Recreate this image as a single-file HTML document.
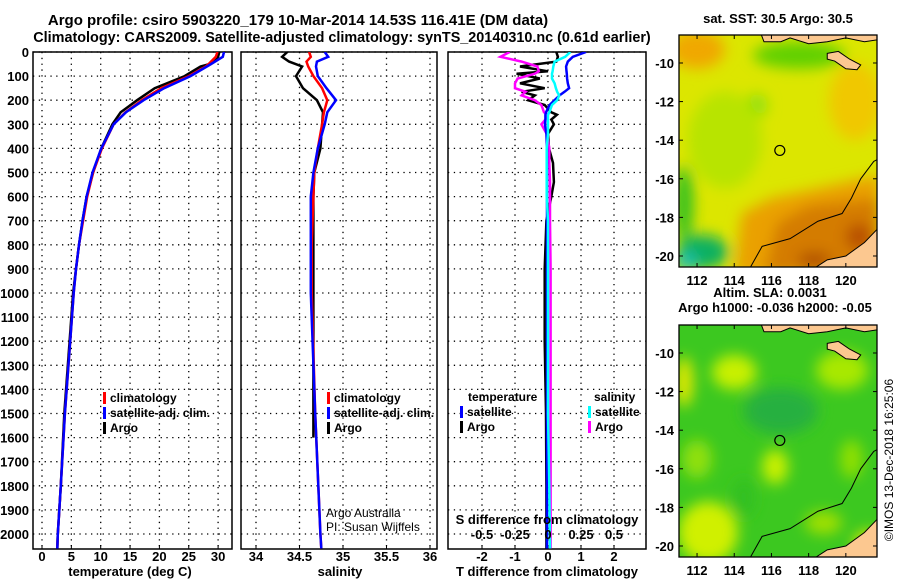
<!DOCTYPE html>
<html><head><meta charset="utf-8"><style>
body{margin:0;background:#fff}
svg{display:block;font-family:"Liberation Sans",sans-serif;font-weight:bold}
text{font-size:13px;fill:#000}
</style></head><body>
<svg id="fig" width="900" height="580" viewBox="0 0 900 580">
<defs>
<filter id="blur" x="-20%" y="-20%" width="140%" height="140%"><feGaussianBlur stdDeviation="7"/></filter>
<clipPath id="clipTop"><rect x="679" y="35" width="198" height="232"/></clipPath>
<clipPath id="clipBot"><rect x="679" y="325" width="198" height="232"/></clipPath>
<clipPath id="clipP1"><rect x="33" y="52" width="199" height="497"/></clipPath>
<clipPath id="clipP2"><rect x="241" y="52" width="196" height="497"/></clipPath>
<clipPath id="clipP3"><rect x="448" y="52" width="198" height="497"/></clipPath>
</defs>
<text x="298" y="25" text-anchor="middle" style="font-size:15px">Argo profile: csiro 5903220_179 10-Mar-2014 14.53S 116.41E (DM data)</text>
<text x="342" y="42" text-anchor="middle" style="font-size:14.4px">Climatology: CARS2009. Satellite-adjusted climatology: synTS_20140310.nc (0.61d earlier)</text>
<g id="panels"></g>
<g id="maps"></g>
<text transform="translate(893,460) rotate(-90)" text-anchor="middle" style="font-size:12px;font-weight:normal">©IMOS 13-Dec-2018 16:25:06</text>
</svg>
<script>
// ---- data ----
const depthTicks=[0,100,200,300,400,500,600,700,800,900,1000,1100,1200,1300,1400,1500,1600,1700,1800,1900,2000];
const tempTicks=[0,5,10,15,20,25,30];
const salTicks=[34,34.5,35,35.5,36];
const salTickLabels=["34","34.5","35","35.5","36"];
const tdiffTicks=[-2,-1,0,1,2];
const sdiffTicks=[-0.5,-0.25,0,0.25,0.5];
const sdiffTickLabels=["-0.5","-0.25","0","0.25","0.5"];

const tDepth=[0,20,50,60,100,150,200,250,300,400,500,600,700,800,900,1000,1200,1500,1800,2000,2060];
const tClim=[29.9,29.6,28.4,27.9,25.0,20.3,17.0,14.2,12.2,10.2,8.7,7.7,7.0,6.3,5.8,5.4,4.8,3.9,3.2,2.7,2.6];
const tSat=[31.0,30.8,28.8,28.1,25.3,20.8,17.3,14.3,12.2,10.1,8.6,7.6,6.9,6.3,5.8,5.4,4.8,3.9,3.2,2.7,2.6];
const tArgo=[30.2,30.0,28.6,27.0,24.3,19.2,16.2,13.4,12.0,10.1,8.7,7.6,6.9,6.3,5.8,5.3,4.7,3.8,3.2,2.7,2.6];

const sDepth=[0,20,40,60,100,150,200,250,300,400,500,600,800,1000,1500,2000,2060];
const sClim=[34.61,34.63,34.58,34.60,34.66,34.76,34.82,34.78,34.76,34.71,34.67,34.66,34.64,34.64,34.68,34.74,34.75];
const sSat=[34.79,34.83,34.70,34.69,34.71,34.81,34.92,34.82,34.79,34.71,34.66,34.63,34.63,34.63,34.68,34.74,34.75];
const aDepth=[0,20,40,60,100,150,200,250,300,400,500,600,800,1000,1300,1600];
const sArgo=[34.36,34.30,34.38,34.53,34.46,34.54,34.70,34.77,34.76,34.74,34.67,34.66,34.66,34.66,34.66,34.66];

const dDepth=[0,20,40,60,80,90,110,130,150,165,180,200,220,250,260,280,300,340,400,460,540,600,700,900,1200,1500,1800,2060];
const dTSat=[1.15,0.75,0.6,0.55,0.56,0.57,0.58,0.6,0.64,0.5,0.35,0.2,0.05,-0.06,-0.08,-0.08,-0.09,-0.05,-0.03,-0.03,-0.03,-0.03,-0.03,-0.03,-0.03,-0.03,-0.03,-0.03];
const dTArgo=[0.25,0.3,0.25,-0.85,0.0,-0.95,-0.25,-0.85,-0.1,-0.8,-0.4,-0.6,-0.1,0.1,0.27,0.1,0.18,0.0,0.03,0.15,0.18,0.1,-0.05,-0.1,-0.1,-0.06,-0.05,-0.05];
const dSSat=[0.17,0.13,0.05,0.04,0.035,0.03,0.03,0.05,0.06,0.07,0.085,0.07,0.03,0.01,0.0,0.0,0.0,0.0,-0.01,-0.01,-0.01,-0.01,0.0,0.0,0.0,0.0,0.01,0.015];
const dSArgo=[-0.29,-0.36,-0.2,-0.08,-0.07,-0.1,-0.23,-0.25,-0.25,-0.17,-0.2,-0.1,-0.05,-0.03,0.0,-0.02,-0.05,-0.01,0.01,0.01,0.015,0.015,0.015,0.02,0.02,0.02,0.02,0.02];

const NS="http://www.w3.org/2000/svg";
function el(tag,attrs,parent){const e=document.createElementNS(NS,tag);for(const k in attrs)e.setAttribute(k,attrs[k]);parent.appendChild(e);return e;}
const P=document.getElementById('panels');
const yD=d=>52+d*0.241;
const Y0=52,Y1=549;
const x1=v=>42+v*5.87;
const x2=v=>256+(v-34)*87;
const x3=v=>548+v*33;
const xs3=v=>548+v*132;

function frame(x0,xw,name){
  const g=el('g',{},P);
  
  
  const r=el('rect',{x:x0,y:Y0,width:xw,height:Y1-Y0,fill:'#fff',stroke:'#000','stroke-width':1.5},g);
  
  
  depthTicks.forEach(d=>{
    const l=el('line',{x1:x0,x2:x0+xw,y1:yD(d),y2:yD(d),stroke:'#000','stroke-width':1.3,'stroke-dasharray':'1.3 4.5'},g);
    
    
  });
  return g;
}
function vgrid(g,vals,fx){vals.forEach(v=>{const l=el('line',{x1:fx(v),x2:fx(v),y1:Y0,y2:Y1,stroke:'#000','stroke-width':1.3,'stroke-dasharray':'1.3 4.5'},g);
  
  
  el('line',{x1:fx(v),x2:fx(v),y1:Y1,y2:Y1-4,stroke:'#000'},g);});}
function line(g,ds,vs,fx,color,name,clip,w){
  const pts=ds.map((d,i)=>fx(vs[i]).toFixed(1)+','+yD(d).toFixed(1)).join(' ');
  const p=el('polyline',{points:pts,fill:'none',stroke:color,'stroke-width':w||2.5,'clip-path':'url(#'+clip+')'},g);
  
  
}
function txt(g,x,y,s,name,anchor,size){const t=el('text',{x:x,y:y,'text-anchor':anchor||'start'},g);if(size)t.style.fontSize=size+'px';t.textContent=s;
  
  return t;}
function legend(g,x,y,color,label){
  const b=el('rect',{x:x,y:y-10,width:3,height:12,fill:color},g);
  
  
  txt(g,x+7,y,label,'legend-entry','start',12);
}

depthTicks.forEach(d=>txt(P,29,yD(d)+5,String(d),'depth-tick-label','end',13));

const g1=frame(33,199,'temperature-panel');
vgrid(g1,tempTicks,x1);
tempTicks.forEach(v=>txt(P,x1(v),561,String(v),'temperature-tick-label','middle'));
txt(P,130,576,'temperature (deg C)','temperature-axis-title','middle');
line(g1,tDepth,tArgo,x1,'#000','argo-temperature-line','clipP1');
line(g1,tDepth,tClim,x1,'#f00','clim-temperature-line','clipP1');
line(g1,tDepth,tSat,x1,'#00f','satellite-temperature-line','clipP1');
legend(g1,103,402,'#f00','climatology');
legend(g1,103,417,'#00f','satellite-adj. clim.');
legend(g1,103,432,'#000','Argo');

const g2=frame(241,196,'salinity-panel');
vgrid(g2,salTicks,x2);
salTicks.forEach((v,i)=>txt(P,x2(v),561,salTickLabels[i],'salinity-tick-label','middle'));
txt(P,340,576,'salinity','salinity-axis-title','middle');
line(g2,aDepth,sArgo,x2,'#000','argo-salinity-line','clipP2');
line(g2,sDepth,sClim,x2,'#f00','clim-salinity-line','clipP2');
line(g2,sDepth,sSat,x2,'#00f','satellite-salinity-line','clipP2');
legend(g2,327,402,'#f00','climatology');
legend(g2,327,417,'#00f','satellite-adj. clim.');
legend(g2,327,432,'#000','Argo');
const c1=txt(g2,326,517,'Argo Australia','credit-argo-australia','start',12);c1.style.fontWeight='normal';
const c2=txt(g2,326,531,'PI: Susan Wijffels','credit-pi','start',12);c2.style.fontWeight='normal';

const g3=frame(448,198,'difference-panel');
vgrid(g3,tdiffTicks,x3);
tdiffTicks.forEach(v=>txt(P,x3(v),561,String(v),'tdiff-tick-label','middle'));
txt(P,547,576,'T difference from climatology','tdiff-axis-title','middle');
line(g3,dDepth,dTArgo,x3,'#000','argo-tdiff-line','clipP3');
line(g3,dDepth,dSArgo,xs3,'#f0f','argo-sdiff-line','clipP3');
line(g3,dDepth,dTSat,x3,'#00f','satellite-tdiff-line','clipP3');
line(g3,dDepth,dSSat,xs3,'#0ff','satellite-sdiff-line','clipP3');
sdiffTicks.forEach((v,i)=>txt(g3,xs3(v),539,sdiffTickLabels[i],'sdiff-tick-label','middle'));
txt(g3,547,524,'S difference from climatology','sdiff-axis-title','middle');
txt(g3,468,401,'temperature','legend-temperature-heading','start',12);
legend(g3,460,416,'#00f','satellite');
legend(g3,460,431,'#000','Argo');
txt(g3,594,401,'salinity','legend-salinity-heading','start',12);
legend(g3,588,416,'#0ff','satellite');
legend(g3,588,431,'#f0f','Argo');

// ---- maps ----
const latTicks=[-10,-12,-14,-16,-18,-20];
const lonTicks=[112,114,116,118,120];
const M=document.getElementById('maps');
const mx=lon=>679+(lon-111.03)*18.6;
function mapPanel(top,name,clip,base,blobs,polys,title1,title2){
  const my=lat=>top+(-8.55-lat)*19.3;
  const g=el('g',{},M);
  
  
  const inner=el('g',{'clip-path':'url(#'+clip+')'},g);
  el('rect',{x:679,y:top,width:198,height:232,fill:base},inner);
  const bg=el('g',{filter:'url(#blur)'},inner);
  polys.forEach(p=>el('polygon',{points:p[0].map(q=>mx(q[0])+','+my(q[1])).join(' '),fill:p[1]},bg));
  blobs.forEach(b=>el('ellipse',{cx:mx(b[0]),cy:my(b[1]),rx:b[2]*18.6,ry:b[3]*19.3,fill:b[4]},bg));
  const land=[[[115.4,-8.4],[115.6,-8.9],[116.5,-8.9],[117,-8.7],[118,-9.0],[119,-8.9],[120,-8.7],[121,-8.9],[121.7,-8.8],[121.7,-8.4]],
              [[119,-9.5],[119.6,-9.4],[120.2,-9.8],[120.8,-10.1],[120.6,-10.35],[120.0,-10.3],[119.4,-9.9],[119,-9.8]],
              [[118.2,-20.7],[119,-20.2],[120,-20.0],[121,-19.3],[121.7,-18.6],[121.7,-20.7]]];
  land.forEach(l=>{const p=el('polygon',{points:l.map(q=>mx(q[0])+','+my(q[1])).join(' '),fill:'#fcc890',stroke:'#000','stroke-width':1},inner);
    
    });
  const bathy=[[114.8,-20.7],[115.5,-19.5],[117,-19.1],[118.5,-18.2],[119.8,-17.8],[120.3,-17],[120.8,-16],[121.5,-15.1],[121.7,-15]];
  el('polyline',{points:bathy.map(q=>mx(q[0])+','+my(q[1])).join(' '),fill:'none',stroke:'#000','stroke-width':1},inner);
  const c=el('circle',{cx:mx(116.45),cy:my(-14.53),r:5,fill:'none',stroke:'#000','stroke-width':1.2},g);
  
  
  el('rect',{x:679,y:top,width:198,height:232,fill:'none',stroke:'#000','stroke-width':1.3},g);
  latTicks.forEach(v=>{el('line',{x1:679,x2:683,y1:my(v),y2:my(v),stroke:'#000'},g);el('line',{x1:873,x2:877,y1:my(v),y2:my(v),stroke:'#000'},g);
    txt(g,674,my(v)+5,String(v),'latitude-tick-label','end');});
  lonTicks.forEach(v=>{el('line',{x1:mx(v),x2:mx(v),y1:top,y2:top+4,stroke:'#000'},g);el('line',{x1:mx(v),x2:mx(v),y1:top+228,y2:top+232,stroke:'#000'},g);
    txt(g,mx(v),top+250,String(v),'longitude-tick-label','middle');});
  if(title2){txt(g,770,top-28,title1,'map-title','middle',13);txt(g,775,top-13,title2,'map-subtitle','middle',13);}
  else txt(g,778,top-12,title1,'map-title','middle',13);
}
mapPanel(35,'sst-map','clipTop','#dce600',
 [[112,-9.3,1.5,1.0,'#f0a800'],[117.5,-9.6,2.5,0.7,'#60d000'],[113.3,-12.8,1.1,1.0,'#70d010'],[115.2,-12.2,0.6,0.6,'#90e010'],
  [113.5,-14,2.0,2.5,'#b8e400'],
  [111.3,-17.3,0.5,2.0,'#30c020'],[112.3,-19.8,1.4,0.9,'#10b060'],[111.4,-20.3,0.6,0.5,'#20c0b0'],[120.5,-12,1.4,2.0,'#f0c800'],
  [120.7,-19.0,0.7,0.7,'#b85000'],[118.3,-20.2,0.9,0.4,'#b05000']],
 [[[[114.0,-21],[114.4,-17.8],[116,-17.0],[118,-16.6],[121.8,-15.8],[121.8,-21]],'#eaa000'],
  [[[115.6,-21],[116.3,-18.3],[118,-17.4],[121.8,-17],[121.8,-21]],'#d47c00']],
 'sat. SST: 30.5 Argo: 30.5');
mapPanel(325,'sla-map','clipBot','#3cc820',
 [[114,-11,1.2,0.9,'#c8f000'],[111.3,-11.5,0.5,1.3,'#e0e800'],[112.6,-19.3,1.6,1.6,'#d0f000'],[116.2,-15.9,0.7,0.9,'#c8f000'],
  [119.8,-10.9,1.4,1.0,'#a8e800'],[121.2,-20,0.8,0.8,'#e0e800'],[116.5,-13,2.0,1.2,'#28b040'],[120.3,-15.5,0.6,1.0,'#90e000'],
  [114.5,-17.5,0.6,1.0,'#30c020'],[118.8,-18.8,1.0,0.6,'#a0e000'],[112,-15.5,0.8,1.0,'#90e010']],
 [],
 'Altim. SLA: 0.0031','Argo h1000: -0.036 h2000: -0.05');
</script>
</body></html>
